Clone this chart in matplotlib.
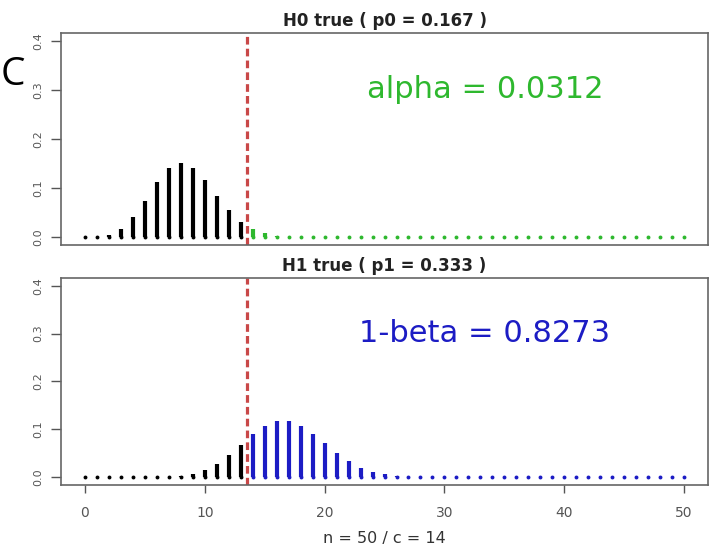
import numpy as np
import matplotlib.pyplot as plt

plt.rcParams['font.family'] = ['DejaVu Sans']

# number of successes
k = list(range(0, 51))

# P(X = k) under H0 (p0 = 0.167)
p_h0 = [0.0001, 0.0011, 0.0054, 0.0173, 0.0407, 0.0749, 0.1124, 0.1413, 0.1519, 0.1418,
        0.1163, 0.0846, 0.0550, 0.0321, 0.0170, 0.0082, 0.0036, 0.0014, 0.0005, 0.0002,
        0.0001] + [0.0] * 30

# P(X = k) under H1 (p1 = 0.333)
p_h1 = [0.0, 0.0, 0.0, 0.0, 0.0, 0.0001, 0.0004, 0.0012, 0.0033, 0.0077,
        0.0157, 0.0285, 0.0464, 0.0678, 0.0896, 0.1075, 0.1176, 0.1176, 0.1078, 0.0908,
        0.0704, 0.0503, 0.0331, 0.0202, 0.0113, 0.0059, 0.0028, 0.0013, 0.0005, 0.0002,
        0.0001] + [0.0] * 20

crit = 14
titles = ['H0 true ( p0 = 0.167 )', 'H1 true ( p1 = 0.333 )']
notes = ['alpha = 0.0312', '1-beta = 0.8273']
note_colors = ['#2eb82e', '#1c1cc4']
note_y = [0.735, 0.73]
yticks = [0.0, 0.1, 0.2, 0.3, 0.4]
xticks = [0, 10, 20, 30, 40, 50]

BarW = 3.0
DashCol = '#c94848'
TickCol = '#555555'

fig = plt.figure(figsize=(7.13, 5.51), dpi=100)
ax_top = fig.add_axes([0.0856, 0.555, 0.9074, 0.385])
ax_bot = fig.add_axes([0.0856, 0.120, 0.9074, 0.3755])

for ax, probs, title, note, ncol, ny in zip([ax_top, ax_bot], [p_h0, p_h1], titles, notes,
                                             note_colors, note_y):
    kk = np.array(k)
    pp = np.array(probs)
    low = kk < crit
    ax.vlines(kk[low], 0, pp[low], color='black', lw=BarW, capstyle='butt')
    ax.vlines(kk[~low], 0, pp[~low], color=ncol, lw=BarW, capstyle='butt')
    ax.plot(kk[low], np.zeros(low.sum()), 'o', color='black', ms=2.8, mew=0)
    ax.plot(kk[~low], np.zeros((~low).sum()), 'o', color=ncol, ms=2.8, mew=0)
    ax.axvline(crit - 0.5, color=DashCol, lw=2.3, ls=(0, (2.4, 1.3)))

    ax.set_xlim(-2, 52)
    ax.set_ylim(-0.016, 0.416)
    ax.set_yticks(yticks)
    ax.set_yticklabels(['%.1f' % v for v in yticks], rotation=90, va='center',
                       fontsize=8, color=TickCol)
    ax.tick_params(axis='y', length=7, width=1, color=TickCol, pad=6)
    for s in ax.spines.values():
        s.set_color('#666666')
        s.set_linewidth(1.2)
    ax.set_title(title, fontsize=12, fontweight='bold', pad=5, color='#222222')
    ax.text(0.655, ny, note, transform=ax.transAxes, ha='center', va='center',
            fontsize=22, color=ncol)

ax_top.set_xticks([])
ax_bot.set_xticks(xticks)
ax_bot.set_xticklabels([str(v) for v in xticks], fontsize=10, color=TickCol)
ax_bot.tick_params(axis='x', length=6, width=1, color=TickCol, pad=9)
ax_bot.set_xlabel('n = 50 / c = 14', fontsize=11.5, color='#333333', labelpad=8)

fig.text(1 / 713, 1 - 75 / 551, 'C', fontsize=28, ha='left', va='center',
         family=['Open Sans', 'DejaVu Sans'], color='black')

fig.savefig('out.png', dpi=100)
